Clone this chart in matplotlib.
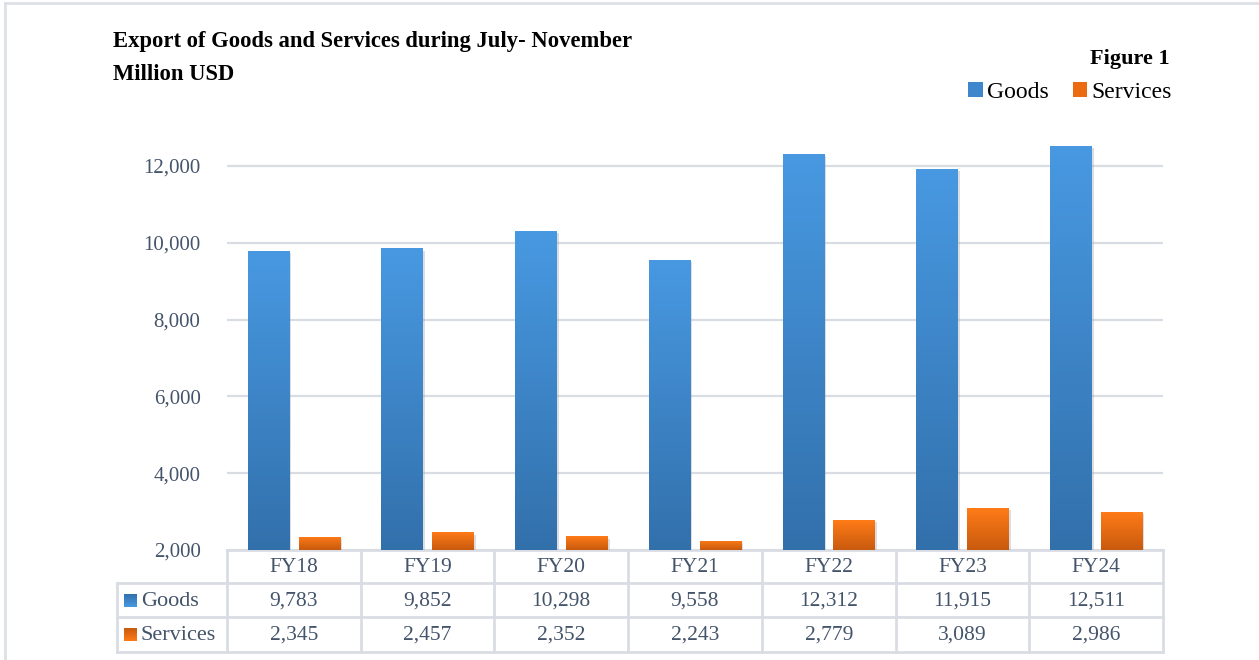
import numpy as np
import matplotlib.pyplot as plt
from matplotlib.patches import Rectangle, Patch
from matplotlib.colors import LinearSegmentedColormap
import matplotlib.patheffects as pe

# data
years = ['FY18', 'FY19', 'FY20', 'FY21', 'FY22', 'FY23', 'FY24']
goods = [9783, 9852, 10298, 9558, 12312, 11915, 12511]
services = [2345, 2457, 2352, 2243, 2779, 3089, 2986]
series_names = ['Goods', 'Services']
yticks = [2000, 4000, 6000, 8000, 10000, 12000]

plt.rcParams['font.family'] = ['Liberation Serif', 'DejaVu Serif']
TXT = '#44546a'
GRID = '#d9dde3'
blue_cmap = LinearSegmentedColormap.from_list('b', ['#3270ab', '#4899e2'])
orange_cmap = LinearSegmentedColormap.from_list('o', ['#c85a0e', '#ff7b17'])

W, H = 1259, 660
fig = plt.figure(figsize=(W / 100, H / 100), dpi=100)

# pixel helper
def fx(px):
    return px / W

def fy(py):
    return 1 - py / H

ax_l, ax_r, ax_b = 227, 1163, 550
ymin, ymax = 2000, 13000
px_per = (550 - 166) / 10000
ax_t = ax_b - (ymax - ymin) * px_per
ax = fig.add_axes([fx(ax_l), fy(ax_b), fx(ax_r - ax_l), (ax_b - ax_t) / H])

x = np.arange(len(years))
bw = 0.31
off = 0.19


def grad_bars(xs, vals, cmap):
    bars = ax.bar(xs, np.array(vals) - ymin, bw, bottom=ymin, color='none',
                  zorder=3)
    grad = np.linspace(0, 1, 256).reshape(-1, 1)
    for b in bars:
        x0, y0 = b.get_x(), b.get_y()
        w, h = b.get_width(), b.get_height()
        sh = Rectangle((x0, y0), w, h, facecolor='white', edgecolor='none',
                       zorder=2,
                       path_effects=[pe.SimplePatchShadow(offset=(1.5, -1.5),
                                                          shadow_rgbFace='#9aa0a8',
                                                          alpha=0.35),
                                     pe.Normal()])
        ax.add_patch(sh)
        im = ax.imshow(grad, cmap=cmap, origin='lower', aspect='auto',
                       extent=(x0, x0 + w, y0, y0 + h), zorder=3)
        im.set_clip_path(b)
    return bars


grad_bars(x - off, goods, blue_cmap)
grad_bars(x + off, services, orange_cmap)

ax.set_xlim(-0.5, len(years) - 0.5)
ax.set_ylim(ymin, ymax)
ax.set_yticks(yticks)
ax.set_yticklabels([f'{v:,}' for v in yticks], fontsize=15, color=TXT)
ax.tick_params(axis='y', length=0, pad=19)
ax.set_xticks([])
ax.grid(axis='y', color=GRID, linewidth=1.6, zorder=0)
ax.set_axisbelow(True)
for s in ax.spines.values():
    s.set_visible(False)

# overlay in pixel coords for table and frame
ov = fig.add_axes([0, 0, 1, 1], zorder=-1)
ov.set_xlim(0, W)
ov.set_ylim(H, 0)
ov.axis('off')
ov.patch.set_alpha(0)

# outer frame
ov.plot([5.5, 5.5], [3, H], color='#dde1e7', lw=2)
ov.plot([5.5, W], [3, 3], color='#dde1e7', lw=2)

# table
tab_l = 117
rows_y = [550, 583, 617, 652]
col_w = (ax_r - ax_l) / len(years)
for yy in rows_y[1:]:
    ov.plot([tab_l, ax_r], [yy, yy], color=GRID, lw=2)
ov.plot([ax_l, ax_r], [550, 550], color=GRID, lw=2)
ov.plot([tab_l, tab_l], [583, 652], color=GRID, lw=2)
for i in range(len(years) + 1):
    xx = ax_l + i * col_w
    ov.plot([xx, xx], [550, 652], color=GRID, lw=2)

for i, yr in enumerate(years):
    cx = ax_l + (i + 0.5) * col_w
    ov.text(cx, (rows_y[0] + rows_y[1]) / 2 + 1, yr, ha='center', va='center',
            fontsize=15.5, color=TXT)
    ov.text(cx, (rows_y[1] + rows_y[2]) / 2 + 1, f'{goods[i]:,}', ha='center',
            va='center', fontsize=15.5, color=TXT)
    ov.text(cx, (rows_y[2] + rows_y[3]) / 2 + 1, f'{services[i]:,}', ha='center',
            va='center', fontsize=15.5, color=TXT)

grad = np.linspace(0, 1, 64).reshape(-1, 1)
for r, (name, cmap) in enumerate(zip(series_names, [blue_cmap, orange_cmap])):
    cy = (rows_y[r + 1] + rows_y[r + 2]) / 2
    ov.imshow(grad, cmap=cmap, origin='upper', aspect='auto',
              extent=(124, 137, cy + 7, cy - 6))
    ov.text(141, cy + 1, name, ha='left', va='center', fontsize=16, color=TXT)
ov.set_xlim(0, W)
ov.set_ylim(H, 0)

# titles
fig.text(fx(113), fy(41), 'Export of Goods and Services during July- November',
         fontsize=16.3, fontweight='bold', va='center', ha='left')
fig.text(fx(113), fy(74), 'Million USD', fontsize=16.3, fontweight='bold',
         va='center', ha='left')
fig.text(fx(1170), fy(59), 'Figure 1', fontsize=16, fontweight='bold',
         va='center', ha='right')

handles = [Patch(facecolor='#3f86cc'), Patch(facecolor='#ec6a12')]
fig.legend(handles, series_names, loc='center right',
           bbox_to_anchor=(fx(1172), fy(92)), ncol=2, frameon=False,
           fontsize=17, handlelength=0.6, handleheight=0.6,
           handletextpad=0.2, columnspacing=1.0, labelcolor='black',
           borderpad=0, borderaxespad=0)

fig.savefig('out.png', dpi=100)
